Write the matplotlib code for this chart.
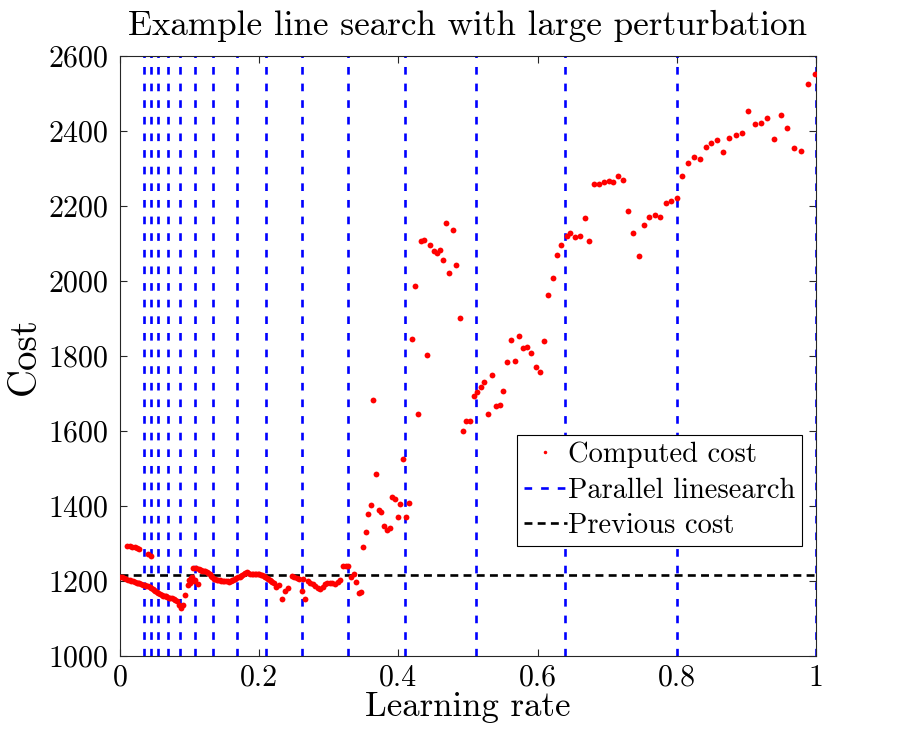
import numpy as np
import matplotlib
matplotlib.use('Agg')
import matplotlib.pyplot as plt

plt.rcParams['font.family'] = ['cmr10', 'DejaVu Serif']
plt.rcParams['axes.formatter.use_mathtext'] = True

# Learning rates and costs
lr = [
    # dense low-rate band
    0.0000, 0.0030, 0.0057, 0.0086, 0.0115, 0.0137, 0.0158, 0.0187, 0.0216, 0.0238,
    0.0259, 0.0280, 0.0302, 0.0330, 0.0359, 0.0380, 0.0402, 0.0424, 0.0445, 0.0467,
    0.0489, 0.0510, 0.0532, 0.0553, 0.0575, 0.0600, 0.0618, 0.0640, 0.0661, 0.0680,
    0.0704, 0.0725, 0.0747, 0.0770, 0.0790, 0.0819, 0.0848, 0.0876, 0.0905, 0.0941,
    0.0970, 0.0991, 0.1005, 0.1020, 0.1040, 0.1049, 0.1070, 0.1078, 0.1099, 0.1121,
    0.1135, 0.1149, 0.1163, 0.1178, 0.1200, 0.1221, 0.1243, 0.1264, 0.1286, 0.1307,
    0.1329, 0.1351, 0.1372, 0.1394, 0.1415, 0.1437, 0.1458, 0.1480, 0.1500, 0.1523,
    0.1545, 0.1566, 0.1588, 0.1609, 0.1630, 0.1652, 0.1673, 0.1695, 0.1717, 0.1739,
    0.1760, 0.1782, 0.1803, 0.1825, 0.1846, 0.1868, 0.1890, 0.1911, 0.1933, 0.1954,
    0.1976, 0.1997, 0.2019, 0.2040, 0.2062, 0.2083, 0.2105, 0.2126, 0.2148, 0.2170,
    0.2191, 0.2213, 0.2241, 0.2284, 0.2323, 0.2371, 0.2418, 0.2467, 0.2500, 0.2539,
    0.2575, 0.2611, 0.2634, 0.2658, 0.2694, 0.2730, 0.2766, 0.2802, 0.2838, 0.2874,
    0.2910, 0.2945, 0.2980, 0.3017, 0.3050, 0.3089, 0.3125, 0.3161, 0.3208, 0.3240,
    0.3280, 0.3323, 0.3358, 0.3395, 0.3430, 0.3467,
    # upper cluster near zero
    0.0105, 0.0140, 0.0175, 0.0210, 0.0240, 0.0270, 0.0402, 0.0450,
    # right part
    0.3496, 0.3534, 0.3568, 0.3606, 0.3639, 0.3678, 0.3717, 0.3754, 0.3793, 0.3832,
    0.3875, 0.3908, 0.3951, 0.3990, 0.4027, 0.4070, 0.4114, 0.4157, 0.4195, 0.4239,
    0.4282, 0.4325, 0.4368, 0.4411, 0.4454, 0.4507, 0.4550, 0.4593, 0.4645, 0.4684,
    0.4731, 0.4784, 0.4832, 0.4881, 0.4932, 0.4976, 0.5029, 0.5082, 0.5134, 0.5182,
    0.5234, 0.5292, 0.5345, 0.5398, 0.5456, 0.5507, 0.5565, 0.5622, 0.5680, 0.5737,
    0.5795, 0.5852, 0.5909, 0.5973, 0.6030, 0.6092, 0.6154, 0.6217, 0.6279, 0.6341,
    0.6418, 0.6470, 0.6537, 0.6605, 0.6677, 0.6739, 0.6810, 0.6878, 0.6950, 0.7022,
    0.7088, 0.7159, 0.7231, 0.7303, 0.7375, 0.7453, 0.7529, 0.7605, 0.7682, 0.7763,
    0.7841, 0.7921, 0.7999, 0.8079, 0.8161, 0.8243, 0.8329, 0.8415, 0.8496, 0.8582,
    0.8668, 0.8754, 0.8846, 0.8937, 0.9027, 0.9119, 0.9210, 0.9300, 0.9397, 0.9493,
    0.9588, 0.9684, 0.9784, 0.9881, 0.9981,
]
cost = [
    1212, 1210, 1208, 1206, 1204, 1202, 1201, 1200, 1198, 1196,
    1195, 1194, 1192, 1190, 1189, 1187, 1186, 1184, 1181, 1179,
    1176, 1173, 1170, 1167, 1165, 1163, 1161, 1160, 1159, 1157,
    1156, 1155, 1154, 1152, 1150, 1146, 1137, 1128, 1136, 1163,
    1190, 1204, 1196, 1208, 1212, 1235, 1200, 1204, 1236, 1193,
    1232, 1230, 1229, 1228, 1227, 1226, 1224, 1222, 1218, 1214,
    1210, 1206, 1205, 1204, 1203, 1202, 1201, 1200, 1200, 1200,
    1199, 1198, 1200, 1202, 1203, 1205, 1207, 1210, 1212, 1214,
    1217, 1220, 1222, 1223, 1222, 1220, 1219, 1218, 1218, 1218,
    1218, 1218, 1217, 1216, 1213, 1211, 1208, 1205, 1202, 1200,
    1197, 1195, 1183, 1190, 1151, 1174, 1181, 1213, 1211, 1209,
    1206, 1174, 1205, 1151, 1200, 1196, 1192, 1187, 1182, 1178,
    1185, 1191, 1194, 1196, 1194, 1191, 1197, 1203, 1240, 1240,
    1239, 1210, 1218, 1198, 1167, 1170,
    1294, 1293, 1292, 1291, 1289, 1285, 1271, 1267,
    1292, 1332, 1378, 1404, 1684, 1486, 1390, 1384, 1348, 1336,
    1342, 1425, 1420, 1370, 1406, 1526, 1370, 1407, 1846, 1988,
    1646, 2108, 2110, 1803, 2095, 2081, 2076, 2084, 2056, 2154,
    2021, 2137, 2043, 1902, 1601, 1628, 1628, 1693, 1703, 1718,
    1732, 1645, 1750, 1666, 1669, 1706, 1783, 1844, 1788, 1854,
    1822, 1825, 1809, 1771, 1758, 1841, 1962, 2007, 2070, 2097,
    2120, 2129, 2118, 2120, 2168, 2106, 2260, 2260, 2264, 2267,
    2264, 2280, 2270, 2187, 2129, 2067, 2149, 2172, 2177, 2172,
    2208, 2213, 2221, 2280, 2316, 2331, 2326, 2358, 2369, 2375,
    2345, 2381, 2389, 2395, 2453, 2419, 2422, 2434, 2378, 2442,
    2407, 2354, 2346, 2526, 2553,
]

# Parallel linesearch learning rates (0.8^k)
search_lr = [1.0, 0.8, 0.64, 0.512, 0.4096, 0.32768, 0.262144, 0.2097152,
             0.16777216, 0.134217728, 0.1073741824, 0.08589934592,
             0.068719476736, 0.0549755813888, 0.04398046511104, 0.035184372088832]
previous_cost = 1215

fig = plt.figure(figsize=(9, 7.5), dpi=100)
ax = fig.add_axes([120 / 900, 1 - 656 / 750, 696 / 900, 600 / 750])

ax.plot(lr, cost, 'o', color='red', markersize=4.2, markeredgewidth=0,
        label='Computed cost', zorder=3)
for i, s in enumerate(search_lr):
    ax.axvline(s, color='blue', linewidth=1.9, linestyle=(0, (2.9, 3.4)),
               label='Parallel linesearch' if i == 0 else None, zorder=2)
ax.axhline(previous_cost, color='black', linewidth=1.9, linestyle=(0, (3.0, 2.0)),
           label='Previous cost', zorder=2)

ax.set_xlim(0, 1)
ax.set_ylim(1000, 2600)
ax.set_xticks([0, 0.2, 0.4, 0.6, 0.8, 1])
ax.set_xticklabels(['0', '0.2', '0.4', '0.6', '0.8', '1'])
ax.set_yticks(np.arange(1000, 2601, 200))
ax.tick_params(direction='in', top=True, right=True, labelsize=21.5,
               length=5, width=0.8, color='#262626', pad=8)
ax.tick_params(axis='x', pad=6)
for sp in ax.spines.values():
    sp.set_linewidth(0.8)
    sp.set_color('#262626')

ax.set_xlabel('Learning rate', fontsize=25, labelpad=0)
ax.set_ylabel('Cost', fontsize=28, labelpad=4)
ax.set_title('Example line search with large perturbation', fontsize=25.3, pad=15)

leg = ax.legend(loc='lower left', bbox_to_anchor=(0.570, 0.183, 0.40, 0.18),
                fontsize=20.5, frameon=True, fancybox=False, framealpha=1,
                edgecolor='black', handlelength=1.5, handletextpad=0.05,
                borderpad=0.25, labelspacing=0.32, borderaxespad=0, markerscale=0.6)
leg.get_frame().set_linewidth(0.8)

plt.savefig('out.png', dpi=100)
